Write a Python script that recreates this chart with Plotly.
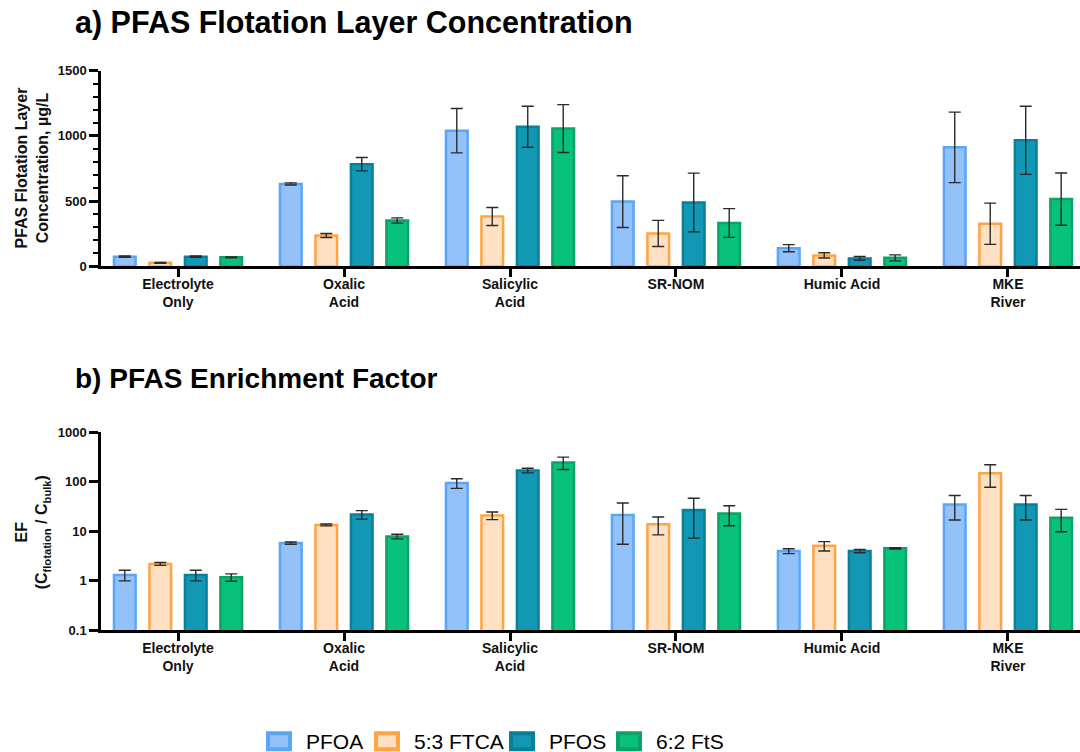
import plotly.graph_objects as go

W, H = 1080, 752

# ---- data -------------------------------------------------------------
categories = ["Electrolyte<br>Only", "Oxalic<br>Acid", "Salicylic<br>Acid",
              "SR-NOM", "Humic Acid", "MKE<br>River"]
series_names = ["PFOA", "5:3 FTCA", "PFOS", "6:2 FtS"]

# a) flotation layer concentration, µg/L (mean and error)
conc_pfoa = [75, 632, 1040, 497, 140, 912]
conc_pfoa_err = [5, 8, 170, 198, 27, 270]
conc_ftca = [28, 237, 383, 253, 85, 327]
conc_ftca_err = [3, 15, 69, 100, 20, 158]
conc_pfos = [75, 783, 1070, 490, 62, 966]
conc_pfos_err = [5, 51, 157, 225, 14, 261]
conc_fts = [70, 352, 1056, 333, 66, 516]
conc_fts_err = [3, 20, 183, 110, 23, 200]

# b) enrichment factor EF = C_flotation / C_bulk
ef_pfoa = [1.32, 5.8, 95, 21.5, 4.0, 35]
ef_pfoa_err = [0.32, 0.3, 21, 16, 0.45, 18]
ef_ftca = [2.2, 13.5, 21, 14, 5.1, 150]
ef_ftca_err = [0.15, 0.6, 3.7, 5.5, 1.1, 72]
ef_pfos = [1.32, 22, 170, 27, 4.0, 35]
ef_pfos_err = [0.32, 4.3, 18, 19.7, 0.3, 18]
ef_fts = [1.18, 7.9, 247, 23, 4.55, 18.8]
ef_fts_err = [0.2, 0.85, 69, 10, 0.15, 9]

conc_tickvals = [0, 500, 1000, 1500]
ef_tickvals = [0.1, 1, 10, 100, 1000]
ef_ticktext = ["0.1", "1", "10", "100", "1000"]

# ---- styles -----------------------------------------------------------
FILL = ["#93C2FA", "#FFE0C2", "#1298B4", "#08C17A"]
EDGE = ["#5AA5F5", "#FFA444", "#0B7F98", "#0EA269"]
FONT = "Liberation Sans, Arial, sans-serif"


def px(x):
    return x / W


def py(y):
    # page pixel row -> paper fraction (with a small offset/scale correction)
    return 1 - ((y - 6.4) / 0.9805) / H


conc_sets = [(conc_pfoa, conc_pfoa_err), (conc_ftca, conc_ftca_err),
             (conc_pfos, conc_pfos_err), (conc_fts, conc_fts_err)]
ef_sets = [(ef_pfoa, ef_pfoa_err), (ef_ftca, ef_ftca_err),
           (ef_pfos, ef_pfos_err), (ef_fts, ef_fts_err)]

fig = go.Figure()
for axes, sets in ((("x", "y"), conc_sets), (("x2", "y2"), ef_sets)):
    for i, (vals, errs) in enumerate(sets):
        fig.add_trace(go.Bar(
            x=categories, y=vals, name=series_names[i],
            xaxis=axes[0], yaxis=axes[1], showlegend=False,
            marker=dict(color=FILL[i], line=dict(color=EDGE[i], width=2.5)),
            error_y=dict(type="data", array=errs, color="#2a2a2a",
                         thickness=1.4, width=6),
        ))

xcommon = dict(
    range=[-0.464, 5.434], showline=True, linewidth=2.5, linecolor="black",
    ticks="outside", ticklen=8, tickwidth=2.5, tickcolor="black",
    ticklabelstandoff=-5,
    tickfont=dict(family=FONT, size=14, color="#111", weight="bold"),
    showgrid=False, zeroline=False, fixedrange=True,
)
ycommon = dict(
    showline=True, linewidth=2.5, linecolor="black",
    ticks="outside", ticklen=9, tickwidth=2.5, tickcolor="black",
    tickfont=dict(family=FONT, size=13, color="#111", weight="bold"),
    showgrid=False, zeroline=False, fixedrange=True,
)

annotations = [
    dict(text="a) PFAS Flotation Layer Concentration", x=px(73), y=py(22),
         xref="paper", yref="paper", xanchor="left", yanchor="middle",
         showarrow=False, font=dict(family=FONT, size=30.5, color="black", weight="bold")),
    dict(text="b) PFAS Enrichment Factor", x=px(73), y=py(378),
         xref="paper", yref="paper", xanchor="left", yanchor="middle",
         showarrow=False, font=dict(family=FONT, size=28, color="black", weight="bold")),
    dict(text="PFAS Flotation Layer<br>Concentration, µg/L", x=px(32), y=py(168),
         xref="paper", yref="paper", xanchor="center", yanchor="middle",
         textangle=-90, showarrow=False,
         font=dict(family=FONT, size=16, color="#111", weight="bold")),
    dict(text="EF<br>(C<sub>flotation</sub> / C<sub>bulk</sub>)", x=px(33), y=py(532),
         xref="paper", yref="paper", xanchor="center", yanchor="middle",
         textangle=-90, showarrow=False,
         font=dict(family=FONT, size=16, color="#111", weight="bold")),
]

# legend: swatch rectangles with labels along the bottom
shapes = []
legend_x = [266, 374, 509, 616]
for i, name in enumerate(series_names):
    x0 = legend_x[i]
    shapes.append(dict(type="rect", xref="paper", yref="paper",
                       x0=px(x0 + 2), x1=px(x0 + 24), y0=py(749), y1=py(733),
                       fillcolor=FILL[i], line=dict(color=EDGE[i], width=4)))
    annotations.append(dict(text=name, x=px(x0 + 38), y=py(741),
                            xref="paper", yref="paper", xanchor="left",
                            yanchor="middle", showarrow=False,
                            font=dict(family=FONT, size=21, color="black")))

fig.update_layout(
    width=W, height=H, margin=dict(l=0, r=0, t=0, b=0),
    paper_bgcolor="white", plot_bgcolor="white",
    barmode="group", bargap=0.145, bargroupgap=0.39,
    showlegend=False,
    xaxis=dict(xcommon, domain=[px(101), 1], anchor="y"),
    yaxis=dict(ycommon, domain=[py(266), py(70)], anchor="x", range=[0, 1500],
               tickvals=conc_tickvals,
               minor=dict(dtick=100, ticks="outside", ticklen=5, tickwidth=2,
                          tickcolor="black")),
    xaxis2=dict(xcommon, domain=[px(101), 1], anchor="y2"),
    yaxis2=dict(ycommon, domain=[py(630), py(432)], anchor="x2", type="log",
                range=[-1, 3], tickvals=ef_tickvals, ticktext=ef_ticktext),
    annotations=annotations,
    shapes=shapes,
)

fig.write_html("out.html")
